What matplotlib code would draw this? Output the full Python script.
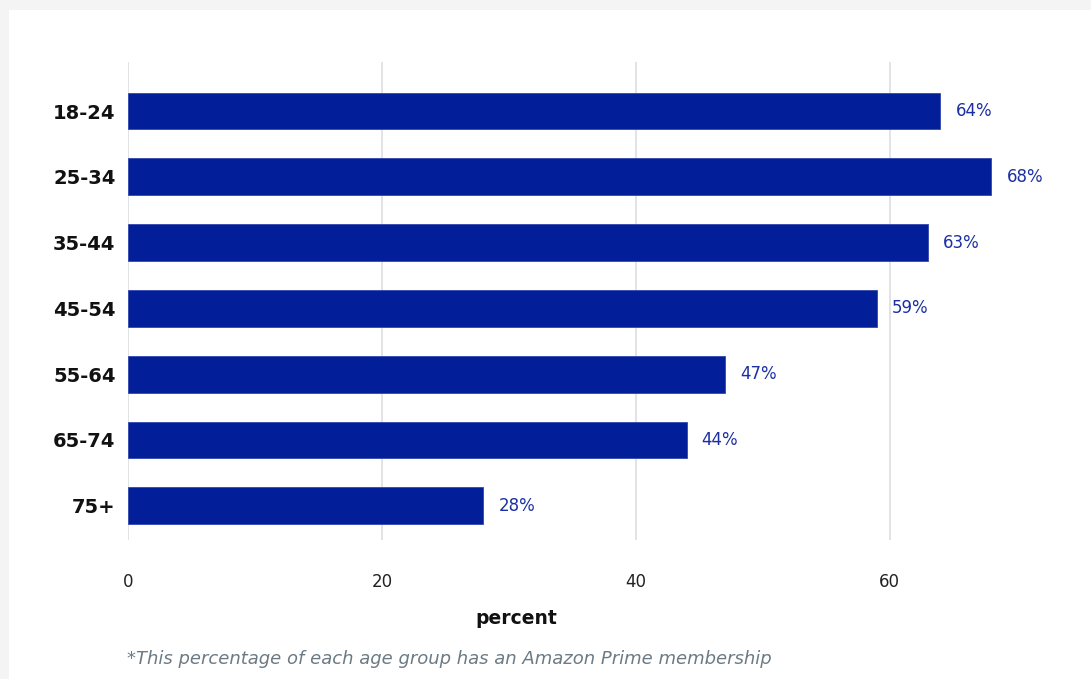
import matplotlib.pyplot as plt
from matplotlib.patches import Rectangle

age_groups = ['18-24', '25-34', '35-44', '45-54', '55-64', '65-74', '75+']
percent = [64, 68, 63, 59, 47, 44, 28]
x_ticks = [0, 20, 40, 60]

bar_color = '#021f99'
label_color = '#1b2fa3'

plt.rcParams['font.family'] = ['DejaVu Sans']

fig = plt.figure(figsize=(10.91, 6.79), dpi=100)
fig.patch.set_facecolor('#f4f4f4')
# white card behind everything
fig.patches.append(Rectangle((9 / 1091, 0), 1, 1 - 10 / 679, transform=fig.transFigure,
                             facecolor='white', edgecolor='none', zorder=-5))

ax = fig.add_axes([128 / 1091, 1 - 540 / 679, 952 / 1091, 478 / 679])
ax.set_facecolor('none')

ypos = list(range(len(age_groups)))
ax.barh(ypos, percent, height=0.56, color=bar_color, edgecolor='#3347ad', linewidth=0.6, zorder=3)

for y, v in zip(ypos, percent):
    ax.text(v + 1.2, y, f'{v}%', va='center', ha='left', fontsize=12, color=label_color)

ax.set_xlim(0, 75)
ax.set_ylim(6.52, -0.745)
ax.set_yticks(ypos)
ax.set_yticklabels(age_groups, fontsize=14, fontweight='bold', color='#111111')
ax.set_xticks(x_ticks)
ax.set_xticklabels([str(t) for t in x_ticks], fontsize=12, color='#222222')
ax.tick_params(axis='both', length=0)
ax.tick_params(axis='x', pad=24)
ax.tick_params(axis='y', pad=9)

ax.grid(axis='x', color='#dadfe2', linewidth=1.2, zorder=0)
ax.grid(axis='y', visible=False)
for s in ax.spines.values():
    s.set_visible(False)

ax.set_xlabel('percent', fontsize=13.5, fontweight='bold', color='#111111', labelpad=10)
ax.xaxis.set_label_coords((516 - 128) / 952, -0.145)

fig.text(127 / 1091, 1 - 659 / 679, '*This percentage of each age group has an Amazon Prime membership',
         fontsize=13, style='italic', color='#6b7a84', va='center', ha='left')

fig.savefig('out.png', dpi=100, facecolor=fig.get_facecolor())
